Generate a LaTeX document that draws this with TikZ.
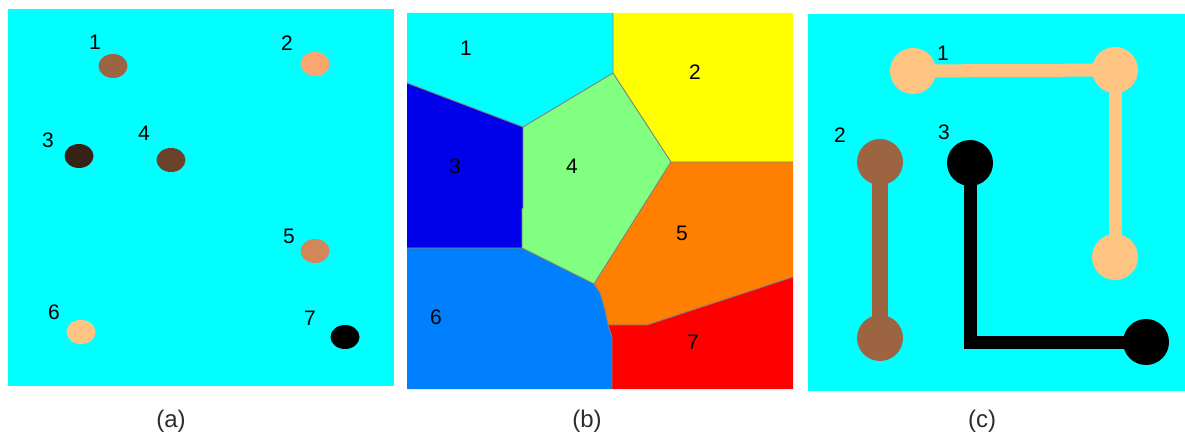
\documentclass[tikz,border=0pt]{standalone}
\usepackage{fontspec}
\setmainfont{Liberation Sans}
\usetikzlibrary{shapes.geometric}
\pgfdeclarelayer{bottom}
\pgfdeclarelayer{lines}
\pgfsetlayers{bottom,lines,main}
\definecolor{cyanbg}{RGB}{0,255,255}
\definecolor{dotA}{RGB}{157,100,66}
\definecolor{dotB}{RGB}{250,166,110}
\definecolor{dotC}{RGB}{55,34,24}
\definecolor{dotD}{RGB}{106,66,42}
\definecolor{dotE}{RGB}{210,135,88}
\definecolor{dotF}{RGB}{255,196,130}
\definecolor{regA}{RGB}{0,255,255}
\definecolor{regB}{RGB}{255,255,0}
\definecolor{regC}{RGB}{0,0,235}
\definecolor{regD}{RGB}{128,255,128}
\definecolor{regE}{RGB}{255,128,0}
\definecolor{regF}{RGB}{0,128,255}
\definecolor{regG}{RGB}{255,0,0}
\definecolor{edgegray}{RGB}{128,128,128}
\definecolor{captgray}{RGB}{45,45,45}
\begin{document}
\begin{tikzpicture}[x=1pt,y=-1pt,
  lbl/.style={inner sep=0pt,font=\fontsize{21}{21}\selectfont},
  capt/.style={inner sep=0pt,text=captgray,font=\fontsize{24}{24}\selectfont},
  dot/.style={ellipse,inner sep=0pt,minimum width=29,minimum height=24},
  ball/.style={circle,inner sep=0pt,minimum size=46},
  region/.style={draw=edgegray,line width=0.9pt,line join=round},
  bar/.style={line width=13pt}
]
\useasboundingbox (0,0) rectangle (1185,435);
\begin{pgfonlayer}{bottom}
\fill[white] (0,0) rectangle (1185,435);
\fill[cyanbg] (8,9) rectangle (394,386);
\fill[cyanbg] (808,14) rectangle (1185,391);
\end{pgfonlayer}

% ---------- panel (a) ----------
\node[dot,fill=dotA] (a1) at (113,66) {};
\node[dot,fill=dotB] (a2) at (315,64) {};
\node[dot,fill=dotC] (a3) at (79,156) {};
\node[dot,fill=dotD] (a4) at (171,160) {};
\node[dot,fill=dotE] (a5) at (315,251) {};
\node[dot,fill=dotF] (a6) at (81,332) {};
\node[dot,fill=black] (a7) at (345,337) {};
\node[lbl] (la1) at (95,42) {1};
\node[lbl] (la2) at (287,43) {2};
\node[lbl] (la3) at (48,140) {3};
\node[lbl] (la4) at (144,133) {4};
\node[lbl] (la5) at (289,236) {5};
\node[lbl] (la6) at (54,312) {6};
\node[lbl] (la7) at (310,318) {7};
\node[capt] (capa) at (171,421) {(a)};

% ---------- panel (b) ----------
\coordinate (TL) at (407,13);
\coordinate (TR) at (793,13);
\coordinate (BL) at (407,389);
\coordinate (BR) at (793,389);
\coordinate (T) at (613,13);
\coordinate (A) at (613,73);
\coordinate (L1) at (407,83);
\coordinate (B) at (523,127);
\coordinate (B2) at (523,208);
\coordinate (B3) at (522,209);
\coordinate (C) at (671,162);
\coordinate (R1) at (793,162);
\coordinate (D) at (522,248);
\coordinate (L2) at (407,248);
\coordinate (E) at (594,284);
\coordinate (E1) at (600,293);
\coordinate (E2) at (605,310);
\coordinate (F) at (608,325);
\coordinate (F2) at (612,337);
\coordinate (FB) at (612,389);
\coordinate (G) at (647,325);
\coordinate (R2) at (793,277);
\fill[regA] (TL) -- (T) -- (A) -- (B) -- (L1) -- cycle;
\fill[regB] (T) -- (TR) -- (R1) -- (C) -- (A) -- cycle;
\fill[regC] (L1) -- (B) -- (B2) -- (B3) -- (D) -- (L2) -- cycle;
\fill[regD] (A) -- (C) -- (E) -- (D) -- (B3) -- (B2) -- (B) -- cycle;
\fill[regE] (C) -- (R1) -- (R2) -- (G) -- (F) -- (E2) -- (E1) -- (E) -- cycle;
\fill[regF] (L2) -- (D) -- (E) -- (E1) -- (E2) -- (F) -- (F2) -- (FB) -- (BL) -- cycle;
\fill[regG] (F) -- (G) -- (R2) -- (BR) -- (FB) -- (F2) -- cycle;
\draw[region] (T) -- (A) -- (B) -- (L1);
\draw[region] (A) -- (C) -- (R1);
\draw[region] (B) -- (B2) -- (B3) -- (D) -- (L2);
\draw[region] (D) -- (E) -- (C);
\draw[region] (E) -- (E1) -- (E2) -- (F) -- (F2) -- (FB);
\draw[region] (F) -- (G) -- (R2);
\node[lbl] (lb1) at (466,48) {1};
\node[lbl] (lb2) at (695,72) {2};
\node[lbl] (lb3) at (455,166) {3};
\node[lbl] (lb4) at (572,166) {4};
\node[lbl] (lb5) at (682,233) {5};
\node[lbl] (lb6) at (436,317) {6};
\node[lbl] (lb7) at (693,342) {7};
\node[capt] (capb) at (587,421) {(b)};

% ---------- panel (c) ----------
\node[ball,fill=dotF] (c1a) at (913,71) {};
\node[ball,fill=dotF] (c1b) at (1115,70) {};
\node[ball,fill=dotF] (c1c) at (1115,257) {};
\node[ball,fill=dotA] (c2a) at (880,162) {};
\node[ball,fill=dotA] (c2b) at (880,338) {};
\node[ball,fill=black] (c3a) at (970,163) {};
\node[ball,fill=black] (c3b) at (1146,342) {};
\begin{pgfonlayer}{lines}
\draw[bar,dotF] (c1a.center) -- (c1b.center);
\draw[bar,dotF] (c1b.center) -- (c1c.center);
\draw[bar,dotA,line width=16pt] (c2a.center) -- (c2b.center);
\draw[bar,black] (c3a.center) |- (c3b.center);
\end{pgfonlayer}
\node[lbl] (lc1) at (943,53) {1};
\node[lbl] (lc2) at (840,135) {2};
\node[lbl] (lc3) at (944,132) {3};
\node[capt] (capc) at (982,421) {(c)};
\end{tikzpicture}
\end{document}
